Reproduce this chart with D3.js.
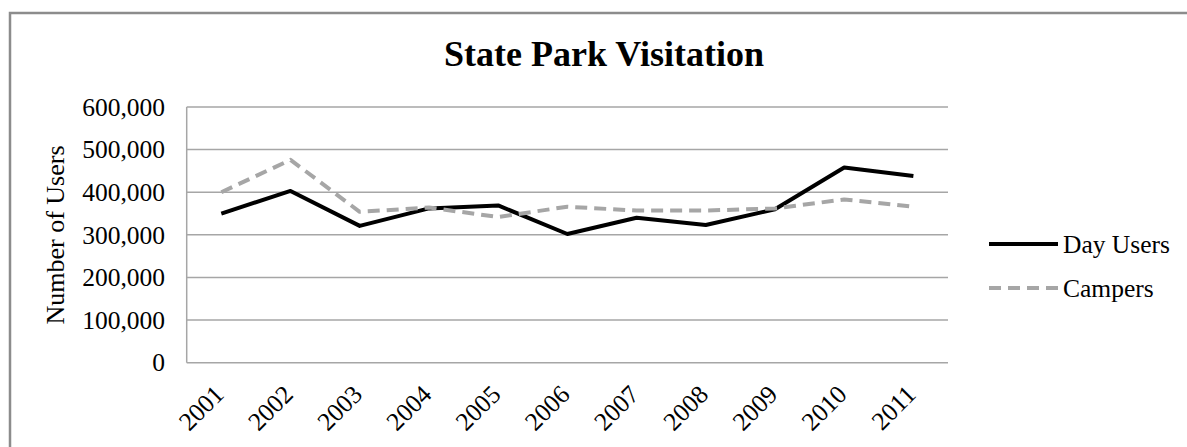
<!DOCTYPE html>
<html><head><meta charset="utf-8">
<script src="https://cdn.jsdelivr.net/npm/d3@7"></script>
<style>html,body{margin:0;padding:0;background:#fff;}svg{display:block;}
svg text{font-family:"Liberation Serif","Times New Roman",serif;}</style>
</head><body>
<script>
const years = ["2001","2002","2003","2004","2005","2006","2007","2008","2009","2010","2011"];
const dayUsers = [350000, 403000, 321000, 362000, 369000, 302000, 340000, 323000, 360000, 458000, 438000];
const campers = [400000, 476000, 354000, 364000, 342000, 366000, 357000, 357000, 362000, 383000, 366000];
const yTicks = [0, 100000, 200000, 300000, 400000, 500000, 600000];
const seriesNames = ["Day Users", "Campers"];

const W = 1187, H = 447;
const font = "Liberation Serif, Times New Roman, serif";
const svg = d3.select("body").append("svg").attr("width", W).attr("height", H);

svg.append("rect").attr("x", 10).attr("y", 13).attr("width", W + 10).attr("height", H + 10)
  .attr("fill", "#fff").attr("stroke", "#8c8c8c").attr("stroke-width", 2.5);

const L = 186.7, R = 948, T = 107, B = 362.7;
const x = d3.scaleBand().domain(years).range([L, R]);
const y = d3.scaleLinear().domain([0, 600000]).range([B, T]);

svg.append("g").selectAll("line").data(yTicks).join("line")
  .attr("x1", L).attr("x2", R).attr("y1", d => y(d)).attr("y2", d => y(d))
  .attr("stroke", "#a6a6a6").attr("stroke-width", 1.5);
svg.append("line").attr("x1", L).attr("x2", L).attr("y1", T).attr("y2", B)
  .attr("stroke", "#a6a6a6").attr("stroke-width", 1.5);

const fmt = d3.format(",");
svg.append("g").selectAll("text").data(yTicks).join("text")
  .attr("x", 165).attr("y", d => y(d)).attr("dy", "0.34em")
  .attr("text-anchor", "end").style("font-family", font).style("font-size", "25.5px")
  .attr("fill", "#000").text(d => fmt(d));

svg.append("g").selectAll("text").data(years).join("text")
  .attr("transform", d => `translate(${x(d) + x.bandwidth() / 2 + 4},${396}) rotate(-45)`)
  .attr("text-anchor", "end").style("font-family", font).style("font-size", "25.5px")
  .attr("fill", "#000").text(d => d);

svg.append("text").attr("x", 604).attr("y", 66).attr("text-anchor", "middle")
  .style("font-family", font).style("font-size", "36px").style("font-weight", "bold")
  .text("State Park Visitation");

svg.append("text").attr("transform", `translate(64,235) rotate(-90)`)
  .attr("text-anchor", "middle").style("font-family", font).style("font-size", "26px")
  .text("Number of Users");

const line = d3.line().x((d, i) => x(years[i]) + x.bandwidth() / 2).y(d => y(d));
const styles = [
  {stroke: "#000", dash: null},
  {stroke: "#a6a6a6", dash: "12,7"}
];
[dayUsers, campers].forEach((s, k) => {
  svg.append("path").datum(s).attr("d", line).attr("fill", "none")
    .attr("stroke", styles[k].stroke).attr("stroke-width", 4)
    .attr("stroke-linejoin", "round")
    .attr("stroke-dasharray", styles[k].dash);
});

const legY = [244, 288];
seriesNames.forEach((n, k) => {
  svg.append("line").attr("x1", 989).attr("x2", 1058).attr("y1", legY[k]).attr("y2", legY[k])
    .attr("stroke", styles[k].stroke).attr("stroke-width", 4)
    .attr("stroke-dasharray", styles[k].dash);
  svg.append("text").attr("x", 1063).attr("y", legY[k]).attr("dy", "0.34em")
    .style("font-family", font).style("font-size", "25.5px").text(n);
});
</script>
</body></html>
